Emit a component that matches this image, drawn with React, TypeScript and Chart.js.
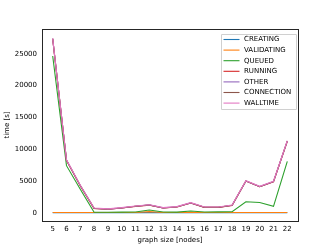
import React, { useEffect, useRef } from "react";
import { Chart, registerables } from "chart.js";

Chart.register(...registerables);

const nodes = [5, 6, 7, 8, 9, 10, 11, 12, 13, 14, 15, 16, 17, 18, 19, 20, 21, 22];
const creating = [20, 20, 20, 20, 20, 20, 20, 20, 20, 20, 20, 20, 20, 20, 20, 20, 20, 20];
const validating = [30, 30, 30, 30, 30, 30, 40, 180, 30, 30, 60, 30, 30, 30, 30, 30, 30, 30];
const queued = [24650, 7400, 3700, 90, 80, 90, 110, 420, 110, 100, 280, 120, 130, 150, 1730, 1620, 1000, 8070];
const running = [27350, 8250, 4250, 680, 540, 740, 1000, 1200, 740, 900, 1520, 840, 840, 1150, 4980, 4090, 4880, 11250];
const other = [27380, 8280, 4280, 710, 570, 770, 1030, 1230, 770, 930, 1550, 870, 870, 1180, 5010, 4120, 4910, 11280];
const connection = [27360, 8260, 4260, 690, 550, 750, 1010, 1210, 750, 910, 1530, 850, 850, 1160, 4990, 4100, 4890, 11260];
const walltime = [27420, 8320, 4320, 740, 600, 800, 1060, 1260, 800, 960, 1580, 900, 900, 1210, 5050, 4150, 4950, 11320];
const yTicks = [0, 5000, 10000, 15000, 20000, 25000];

const seriesNames = ["CREATING", "VALIDATING", "QUEUED", "RUNNING", "OTHER", "CONNECTION", "WALLTIME"];
const seriesData = [creating, validating, queued, running, other, connection, walltime];
const colors = ["#1f77b4", "#ff7f0e", "#2ca02c", "#d62728", "#9467bd", "#8c564b", "#e377c2"];

const FONT = "'DejaVu Sans', sans-serif";

const framePlugin = {
  id: "frame",
  afterDraw(chart: any) {
    const { ctx, chartArea } = chart;
    const { left, top, right, bottom } = chartArea;
    ctx.save();
    ctx.strokeStyle = "#262626";
    ctx.lineWidth = 1;
    ctx.strokeRect(Math.round(left) + 0.5, Math.round(top) + 0.5, Math.round(right - left), Math.round(bottom - top));
    // legend
    const fs = 7;
    ctx.font = `${fs}px ${FONT}`;
    const rowH = 10.6;
    const boxW = 75;
    const boxH = 75;
    const bx = Math.round(right - 2 - boxW);
    const by = Math.round(top + 4.5);
    ctx.fillStyle = "rgba(255,255,255,0.8)";
    ctx.strokeStyle = "#d0d0d0";
    ctx.lineWidth = 1;
    ctx.beginPath();
    ctx.rect(bx + 0.5, by + 0.5, boxW, boxH);
    ctx.fill();
    ctx.stroke();
    ctx.textBaseline = "middle";
    ctx.textAlign = "left";
    seriesNames.forEach((name, i) => {
      const cy = by + 5.5 + i * rowH;
      ctx.strokeStyle = colors[i];
      ctx.lineWidth = 1.1;
      ctx.beginPath();
      ctx.moveTo(bx + 2.5, cy);
      ctx.lineTo(bx + 18.5, cy);
      ctx.stroke();
      ctx.fillStyle = "#000";
      ctx.fillText(name, bx + 23, cy);
    });
    ctx.restore();
  },
};

export default function App() {
  const ref = useRef<HTMLCanvasElement | null>(null);
  useEffect(() => {
    document.body.style.margin = "0";
    const canvas = ref.current!;
    const chart = new Chart(canvas, {
      type: "line",
      data: {
        datasets: seriesNames.map((name, i) => ({
          label: name,
          data: nodes.map((n, j) => ({ x: n, y: seriesData[i][j] })),
          borderColor: colors[i],
          backgroundColor: colors[i],
          borderWidth: 1.1,
          pointRadius: 0,
          tension: 0,
          order: seriesNames.length - i,
        })),
      },
      options: {
        animation: false,
        responsive: false,
        devicePixelRatio: 1,
        layout: { padding: { left: 0, top: 29, right: 34, bottom: 0 } },
        plugins: { legend: { display: false }, tooltip: { enabled: false } },
        scales: {
          x: {
            type: "linear",
            min: 4.225,
            max: 22.775,
            afterFit(scale: any) {
              scale.height = 28;
            },
            afterBuildTicks(scale: any) {
              scale.ticks = nodes.map((v) => ({ value: v }));
            },
            grid: { display: false, drawTicks: true, tickLength: 3, tickColor: "#262626" },
            border: { display: true, color: "#262626" },
            ticks: {
              color: "#000",
              font: { family: FONT, size: 7 },
              maxRotation: 0,
              autoSkip: false,
              padding: 1,
              callback: (v: any) => String(v),
            },
            title: {
              display: true,
              text: "graph size [nodes]",
              color: "#000",
              font: { family: FONT, size: 7 },
              padding: { top: 0, bottom: 4.5 },
            },
          },
          y: {
            type: "linear",
            min: -1300,
            max: 28900,
            afterFit(scale: any) {
              scale.width = 42;
            },
            afterBuildTicks(scale: any) {
              scale.ticks = yTicks.map((v) => ({ value: v }));
            },
            grid: { display: false, drawTicks: true, tickLength: 3, tickColor: "#262626" },
            border: { display: true, color: "#262626" },
            ticks: {
              color: "#000",
              font: { family: FONT, size: 7 },
              padding: 2,
              callback: (v: any) => String(v),
            },
            title: {
              display: true,
              text: "time [s]",
              color: "#000",
              font: { family: FONT, size: 7 },
              padding: { top: 3, bottom: 0 },
            },
          },
        },
      },
      plugins: [framePlugin],
    } as any);
    return () => chart.destroy();
  }, []);
  return <canvas ref={ref} width={332} height={249} style={{ display: "block" }} />;
}
